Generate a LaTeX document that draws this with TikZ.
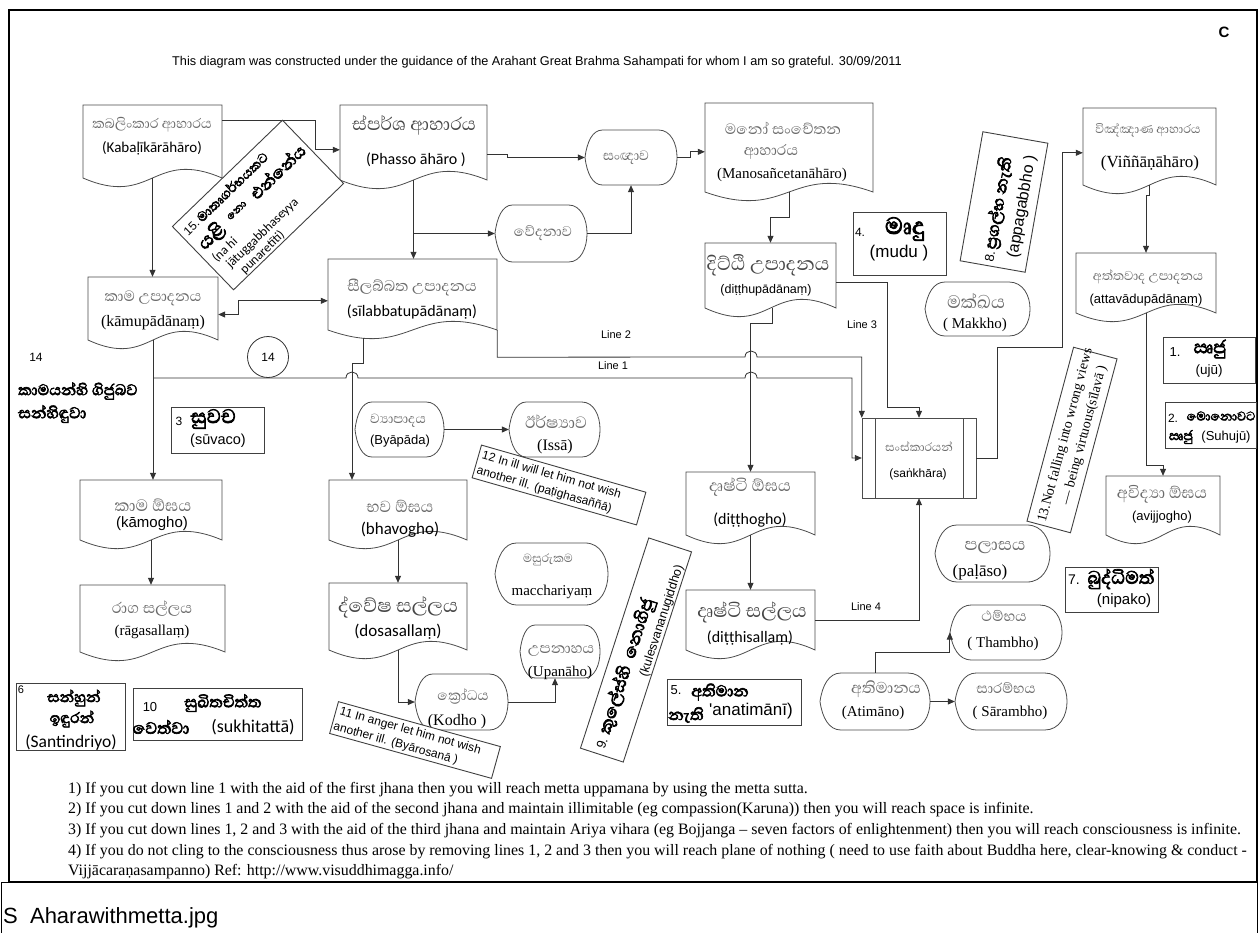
\documentclass[tikz,border=0pt]{standalone}
\usepackage{fontspec}
\setmainfont{Liberation Serif}
\newfontfamily\sa{Liberation Sans}
\newfontfamily\ca{Carlito}
\newfontfamily\si[Script=Sinhala]{Abhaya Libre}
\newfontfamily\sib[Script=Sinhala, FakeBold=3]{Abhaya Libre}
\usetikzlibrary{arrows.meta,calc}

\newcommand\fs[1]{\fontsize{#1}{#1}\selectfont}

% document shape with a wavy bottom edge; the named node covers its box
\newcommand\docnode[5]{%
  \draw[shp] (#2,#3) -- (#4,#3) -- (#4,#5)
    .. controls ({(#2+#4)/2},{#5-30}) and ({(#2+#4)/2},{#5+30}) .. (#2,#5) -- cycle;
  \node[minimum width={#4-#2}, minimum height={#5-#3}] (#1) at ({(#2+#4)/2},{(#3+#5)/2}) {};}

% display shape: pointed left end, rounded right end
\newcommand\dispnode[5]{%
  \pgfmathsetmacro\dw{#4-#2}%
  \pgfmathsetmacro\dm{(#3+#5)/2}%
  \pgfmathsetmacro\dh{#5-#3}%
  \draw[shp] (#2,\dm) .. controls ({#2+0.02*\dw},{#3+0.22*\dh}) and ({#2+0.08*\dw},#3) .. ({#2+0.19*\dw},#3)
     -- ({#4-0.2*\dw},#3) .. controls ({#4+0.067*\dw},#3) and ({#4+0.067*\dw},#5) .. ({#4-0.2*\dw},#5)
     -- ({#2+0.19*\dw},#5) .. controls ({#2+0.08*\dw},#5) and ({#2+0.02*\dw},{#5-0.22*\dh}) .. (#2,\dm) -- cycle;
  \node[minimum width={\dw}, minimum height={\dh}] (#1) at ({(#2+#4)/2},\dm) {};}

\tikzset{
  shp/.style={draw=black!70, line width=0.8pt, fill=white},
  conn/.style={draw=black!80, line width=0.8pt, -{Triangle[length=7pt,width=6pt]}},
  box/.style={draw=black!75, line width=0.9pt, fill=white},
  sg/.style={text=black!58, font=\si\fs{#1}},
  sd/.style={text=black!72, font=\si\fs{#1}},
  sb/.style={font=\sib\fs{#1}},
}

\begin{document}
\begin{tikzpicture}[x=1pt, y=-1pt, every node/.style={inner sep=0pt}]
\useasboundingbox (0,0) rectangle (1260,932);
\fill[white] (0,0) rectangle (1260,932);

% frames
\draw[line width=2.2pt] (9,10) rectangle (1257,882);
\draw[line width=1pt] (1,882) rectangle (1257,940);

\node[font=\sa\fs{12.7}, anchor=west] (title) at (172,62) {This diagram was constructed under the guidance of the Arahant Great Brahma Sahampati for whom I am so grateful. 30/09/2011};
\node[font=\sa\bfseries\fs{15}] (corner) at (1224,32) {C};

% ---------- document shapes ----------
\docnode{kab}{83}{105}{222}{178}
\docnode{pha}{340}{105}{487}{180}
\docnode{man}{705}{103}{873}{192}
\docnode{vin}{1083}{108}{1216}{185}
\docnode{kamu}{88}{277}{218}{340}
\docnode{sil}{328}{259}{497}{330}
\docnode{ditu}{705}{243}{836}{308}
\docnode{atta}{1076}{253}{1216}{313}
\docnode{kamo}{80}{480}{222}{540}
\docnode{bhav}{329}{480}{467}{540}
\docnode{dito}{686}{472}{815}{535}
\docnode{avij}{1106}{476}{1220}{535}
\docnode{raga}{80}{585}{225}{652}
\docnode{dosa}{329}{583}{467}{650}
\docnode{dits}{686}{590}{815}{650}

% ---------- display shapes ----------
\dispnode{san}{585}{130}{677}{185}
\dispnode{ved}{495}{205}{587}{262}
\dispnode{mak}{925}{282}{1030}{336}
\dispnode{bya}{355}{402}{444}{457}
\dispnode{iss}{509}{402}{600}{457}
\dispnode{mac}{495}{543}{608}{605}
\dispnode{upa}{520}{625}{600}{678}
\dispnode{kod}{415}{674}{508}{730}
\dispnode{pal}{935}{525}{1050}{582}
\dispnode{tha}{950}{605}{1062}{660}
\dispnode{ati}{820}{673}{930}{730}
\dispnode{sar}{955}{673}{1067}{730}

% ---------- predefined process ----------
\draw[shp] (862,418) rectangle (976,498);
\draw[shp] (875,418) -- (875,498) (963,418) -- (963,498);
\node[minimum width=114, minimum height=80] (sank) at (919,458) {};

% ---------- circle on line 1 ----------
\node[draw=black!80, line width=0.8pt, circle, minimum size=41, font=\sa\fs{12}] (c14) at (268,357) {14};

% ---------- texts inside shapes ----------
\node[sg=17.5] (kab1) at (152,125) {කබලිංකාර ආහාරය};
\node[font=\ca\fs{15}] (kab2) at (152,148) {(Kabaḷīkārāhāro)};
\node[sd=23] (pha1) at (414,125) {ස්පර්ශ ආහාරය};
\node[font=\ca\fs{16}] (pha2) at (416,160) {(Phasso āhāro )};
\node[sg=19] (man1) at (783,128) {මනෝ සංචේතන};
\node[sg=19] (man2) at (771,152) {ආහාරය};
\node[font=\fs{15}] (man3) at (782,175) {(Manosañcetanāhāro)};
\node[sg=15.5] (vin1) at (1148,130) {විඤ්ඤාණ ආහාරය};
\node[font=\fs{17}] (vin2) at (1150,163) {(Viññāṇāhāro)};
\node[sg=19] (kamu1) at (153,298) {කාම උපාදනය};
\node[font=\fs{16}] (kamu2) at (153,323) {(kāmupādānaṃ)};
\node[sg=19.5] (sil1) at (412,288) {සීලබ්බත උපාදනය};
\node[font=\ca\fs{16}] (sil2) at (412,312) {(sīlabbatupādānaṃ)};
\node[sd=24] (ditu1) at (768,265) {දිට්ඨි උපාදනය};
\node[font=\sa\fs{12.5}] (ditu2) at (766,290) {(diṭṭhupādānaṃ)};
\node[sg=16.5] (atta1) at (1148,277) {අත්තවාද උපාදනය};
\node[font=\sa\fs{13}] (atta2) at (1146,300) {(attavādupādānaṃ)};
\node[sg=21] (kamo1) at (153,505) {කාම ඕඝය};
\node[font=\sa\fs{15}] (kamo2) at (152,524) {(kāmogho)};
\node[sg=20.5] (bhav1) at (400,506) {භව ඕඝය};
\node[font=\ca\fs{17}] (bhav2) at (400,530) {(bhavogho)};
\node[sg=21] (dito1) at (750,487) {දෘෂ්ටි ඕඝය};
\node[font=\ca\fs{16}] (dito2) at (750,520) {(diṭṭhogho)};
\node[sg=20.5] (avij1) at (1162,494) {අවිද්‍යා ඕඝය};
\node[font=\sa\fs{13}] (avij2) at (1162,517) {(avijjogho)};
\node[sg=19.5] (raga1) at (152,609) {රාග සල්ලය};
\node[font=\fs{15}] (raga2) at (152,632) {(rāgasallaṃ)};
\node[sd=24.5] (dosa1) at (398,607) {ද්වේෂ සල්ලය};
\node[font=\ca\fs{17}] (dosa2) at (398,632) {(dosasallaṃ)};
\node[sd=24] (dits1) at (752,612) {දෘෂ්ටි සල්ලය};
\node[font=\ca\fs{16}] (dits2) at (750,638) {(diṭṭhisallaṃ)};

\node[sg=17.5] (san1) at (626,158) {සංඥාව};
\node[sg=18] (ved1) at (543,233) {වේදනාව};
\node[sg=23] (mak1) at (976,301) {මක්ඛය};
\node[font=\fs{15}] (mak2) at (975,325) {( Makkho)};
\node[sg=17] (bya1) at (398,421) {ව්‍යාපාදය};
\node[font=\sa\fs{13}] (bya2) at (400,441) {(Byāpāda)};
\node[sg=21] (iss1) at (556,422) {ඊර්ෂ්‍යාව};
\node[font=\fs{16}] (iss2) at (555,447) {(Issā)};
\node[sg=15] (mac1) at (548,560) {මසුරුකම};
\node[font=\fs{15}] (mac2) at (552,592) {macchariyaṃ};
\node[sg=19] (upa1) at (561,651) {උපනාහය};
\node[font=\fs{15}] (upa2) at (560,673) {(Upanāho)};
\node[sg=18] (kod1) at (463,697) {ක්‍රෝධය};
\node[font=\fs{16}] (kod2) at (457,722) {(Kodho )};
\node[sg=22] (pal1) at (995,548) {පලාසය};
\node[font=\fs{17}] (pal2) at (980,572) {(paḷāso)};
\node[sg=18.5] (tha1) at (1004,616) {ථම්භය};
\node[font=\fs{15}] (tha2) at (1003,644) {( Thambho)};
\node[sg=20] (ati1) at (886,689) {අතිමානය};
\node[font=\fs{15}] (ati2) at (873,713) {(Atimāno)};
\node[sg=18] (sar1) at (1006,688) {සාරම්භය};
\node[font=\fs{15}] (sar2) at (1010,713) {( Sārambho)};
\node[sg=15] (sank1) at (919,447) {සංස්කාරයන්};
\node[font=\sa\fs{12}] (sank2) at (918,474) {(saṅkhāra)};

% ---------- connectors ----------
\draw[conn] ([yshift=-16pt]kab.north east) -- ++(93,0) |- ([yshift=-45pt]pha.north west);
\draw[conn] (kab.south) -- (kab.south |- kamu.north);
\draw[conn] ([yshift=-12pt]pha.east) -- ++(20,0) |- (san.west);
\draw[conn] (san.east) -- ++(13,0) |- ([yshift=-49pt]man.north west);
\draw[conn] (pha.south) -- (pha.south |- sil.north);
\draw[conn] (pha.south |- ved.west) -- (ved.west);
\draw[conn] (ved.east) -| (san.south);
\draw[conn] (man.south) -- ++(0,25) -| (ditu.north);
\draw[conn, {Triangle[length=7pt,width=6pt]}-{Triangle[length=7pt,width=6pt]}]
  ([yshift=-6pt]kamu.east) -- ++(20,0) |- ([yshift=-42pt]sil.north west);
\draw[conn] (kamu.south) -- (kamu.south |- kamo.north);
\draw[conn] (kamo.south) -- (kamo.south |- raga.north);
\draw[conn] ([xshift=-49.5pt,yshift=-8pt]sil.south) -- ++(0,25) -| ([xshift=-46pt]bhav.north);
\draw[conn] (bhav.south) -- (dosa.north);
\draw[conn] (dosa.south) |- (kod.west);
\draw[conn] (kod.east) -| ([xshift=-5pt]upa.south);
\draw[conn] (bya.east) -- (iss.west);
\draw[conn] ([xshift=1.5pt]ditu.south) -- ++(0,15) -| (dito.north);
\draw[conn] (dito.south) -- (dits.north);
% line 1, hopping over the two vertical connectors
\coordinate (l1) at (kamu.south |- c14.south);
\draw[conn] (l1) -- (346,378) .. controls (346,370) and (358,370) .. (358,378)
  -- (745,378) .. controls (745,370) and (757,370) .. (757,378) -- (852,378) |- (sank.west);
% line 2
\draw[conn] (sil.south east) -- ++(0,27) -- (745,357) .. controls (745,349) and (757,349) .. (757,357)
  -| (sank.north west);
% line 3
\draw[conn] ([yshift=-6.5pt]ditu.east) -- ++(51,0) |- ([yshift=10pt]sank.north) -- (sank.north);
% line 4
\draw[conn] (dits.east) -| (sank.south);
\draw[conn] (sank.east) -- ++(21,0) -- ++(0,-111) -- ++(65,0) |- ([yshift=-45pt]vin.north west);
\draw[conn] (vin.south) -- ++(0,10) -| (atta.north);
\draw[conn] (atta.south) -- ++(0,152) -| (avij.north);
\draw[conn] (ati.north) -- ++(0,-20) -| (tha.west);
\draw[conn] (ati.east) -- (sar.west);

\node[font=\sa\fs{11}] (ln1) at (613,366) {Line 1};
\node[font=\sa\fs{11}] (ln2) at (616,335) {Line 2};
\node[font=\sa\fs{11}] (ln3) at (862,325) {Line 3};
\node[font=\sa\fs{11}] (ln4) at (866,607) {Line 4};

% ---------- numbered boxes ----------
\node[box, minimum width=93, minimum height=63, anchor=north west] (b4) at (853,212) {};
\node[font=\sa\fs{12}] (b4a) at (860,232) {4.};
\node[sb=30] (b4b) at (905,229) {මෘදු};
\node[font=\sa\fs{17}] (b4c) at (899,253) {(mudu )};

\node[box, minimum width=93, minimum height=46, anchor=north west] (b3) at (171,407) {};
\node[font=\sa\fs{12}] (b3a) at (179,421) {3};
\node[sb=25] (b3b) at (213,419) {සුවච};
\node[font=\sa\fs{14.5}] (b3c) at (218,441) {(sūvaco)};

\node[box, minimum width=92, minimum height=46, anchor=north west] (b1) at (1163,337) {};
\node[font=\sa\fs{13}] (b1a) at (1175,352) {1.};
\node[sb=23] (b1b) at (1210,349) {ඍජු};
\node[font=\sa\fs{13.5}] (b1c) at (1209,371) {(ujū)};

\node[box, minimum width=91, minimum height=46, anchor=north west] (b2) at (1165,402) {};
\node[font=\sa\fs{12}] (b2a) at (1173,418) {2.};
\node[sb=16] (b2b) at (1221,416) {මොනොවට};
\node[sb=17] (b2c) at (1181,437) {ඍජු};
\node[font=\sa\fs{13}] (b2d) at (1226,437) {(Suhujū)};

\node[box, minimum width=93, minimum height=45, anchor=north west] (b7) at (1065,567) {};
\node[font=\sa\fs{14}] (b7a) at (1074,580) {7.};
\node[sb=23] (b7b) at (1121,579) {බුද්ධිමත්};
\node[font=\sa\fs{15}] (b7c) at (1124,601) {(nipako)};

\node[box, minimum width=134, minimum height=46, anchor=north west] (b5) at (667,679) {};
\node[font=\sa\fs{13}] (b5a) at (676,690) {5.};
\node[sb=20] (b5b) at (720,692) {අතිමාන};
\node[sb=20] (b5c) at (686,715) {නැති};
\node[font=\sa\fs{17}] (b5d) at (751,711) {'anatimānī)};

\node[box, minimum width=109, minimum height=67, anchor=north west] (b6) at (16,683) {};
\node[font=\sa\fs{11}] (b6a) at (21,690) {6};
\node[sb=19] (b6b) at (74,698) {සන්හුන්};
\node[sb=19] (b6c) at (72,719) {ඉඳුරන්};
\node[font=\ca\fs{17.5}] (b6d) at (71,742) {(Santindriyo)};

\node[box, minimum width=169, minimum height=52, anchor=north west] (b10) at (133,688) {};
\node[font=\sa\fs{13}] (b10a) at (150,707) {10};
\node[sb=20] (b10b) at (223,703) {සුඛිතචිත්ත};
\node[sb=21] (b10c) at (161,727) {වෙත්වා};
\node[font=\ca\fs{18}] (b10d) at (253,727) {(sukhitattā)};

\node[font=\sa\fs{12}] (n14) at (36,357) {14};
\node[sb=19.5, anchor=west] (kg1) at (18,391) {කාමයන්හි ගිජුබව};
\node[sb=20, anchor=west] (kg2) at (18,414) {සන්හිඳුවා};

% ---------- tilted boxes ----------
\begin{scope}[shift={(258,205)}, rotate=44, transform shape]
  \node[box, minimum width=153, minimum height=88] (b15) at (0,0) {};
  \node[anchor=base west] (b15a) at (-72,-26) {{\sa\fs{12}15.}\ {\sib\fs{17}මාතෘගර්භයකට}};
  \node[anchor=base west] (b15b) at (-70,-4) {{\sib\fs{24}යළි}\quad\raisebox{4pt}{\sib\fs{14}නො}\quad{\sib\fs{21}එන්නේය}};
  \node[anchor=base west, font=\ca\fs{13}] (b15c) at (-70,13) {(na hi};
  \node[anchor=base west, font=\ca\fs{13}] (b15d) at (-64,27) {jātuggabbhaseyya};
  \node[anchor=base west, font=\ca\fs{13}] (b15e) at (-58,41) {punaretīti)};
\end{scope}

\begin{scope}[shift={(1004,202)}, rotate=80, transform shape]
  \node[box, minimum width=131, minimum height=66] (b8) at (0,0) {};
  \node[anchor=base west] (b8a) at (-62,0) {{\sa\fs{13}8.}\ {\sib\fs{21}ප්‍රගල්භ නැති}};
  \node[anchor=base west, font=\sa\fs{16}] (b8b) at (-54,23) {(appagabbho )};
\end{scope}

\begin{scope}[shift={(636,650)}, rotate=72, transform shape]
  \node[box, minimum width=221, minimum height=45] (b9) at (0,0) {};
  \node[anchor=base west] (b9a) at (-105,1) {{\sa\fs{13}9.}\ \ {\sib\fs{22}කුලේස්හි\ \ නොගිජු}};
  \node[anchor=base east, font=\sa\fs{12.5}] (b9b) at (94,19) {(kulesvananugiddho)};
\end{scope}

\begin{scope}[shift={(415,740)}, rotate=-15.5, transform shape]
  \node[box, minimum width=168, minimum height=33] (b11) at (0,0) {};
  \node[anchor=base west, font=\sa\fs{12}] (b11a) at (-80,-4) {11 In anger let him not wish};
  \node[anchor=base west, font=\sa\fs{12}] (b11b) at (-82,12) {another ill. (Byārosanā )};
\end{scope}

\begin{scope}[shift={(559,485)}, rotate=-16, transform shape]
  \node[box, minimum width=171, minimum height=34] (b12) at (0,0) {};
  \node[anchor=base west, font=\sa\fs{12}] (b12a) at (-82,-4) {12 In ill will let him not wish};
  \node[anchor=base west, font=\sa\fs{12}] (b12b) at (-83,12) {another ill. (paṭighasaññā)};
\end{scope}

\begin{scope}[shift={(1072,440)}, rotate=75, transform shape]
  \node[box, minimum width=180, minimum height=45] (b13) at (0,0) {};
  \node[anchor=base west, font=\fs{14}] (b13a) at (-87,-4) {13.Not falling into wrong views};
  \node[anchor=base west, font=\fs{14}] (b13b) at (-64,14) {— being virtuous(sīlavā )};
\end{scope}

% ---------- notes ----------
\begin{scope}[every node/.style={inner sep=0pt, anchor=west, font=\fs{15.9}}]
\node (t1) at (68,790) {1) If you cut down line 1 with the aid of the first jhana then you will reach metta uppamana by using the metta sutta.};
\node (t2) at (68,810) {2) If you cut down lines 1 and 2 with the aid of the second jhana and maintain illimitable (eg compassion(Karuna)) then you will reach space is infinite.};
\node (t3) at (68,831) {3) If you cut down lines 1, 2 and 3 with the aid of the third jhana and maintain Ariya vihara (eg Bojjanga – seven factors of enlightenment) then you will reach consciousness is infinite.};
\node (t4) at (68,852) {4) If you do not cling to the consciousness thus arose by removing lines 1, 2 and 3 then you will reach plane of nothing ( need to use faith about Buddha here, clear-knowing \& conduct -};
\node (t5) at (68,872) {Vijjācaraṇasampanno) Ref: http://www.visuddhimagga.info/};
\end{scope}

\node[font=\sa\fs{22}, anchor=west] (cap) at (3,918) {S\ \ Aharawithmetta.jpg};
\end{tikzpicture}
\end{document}
